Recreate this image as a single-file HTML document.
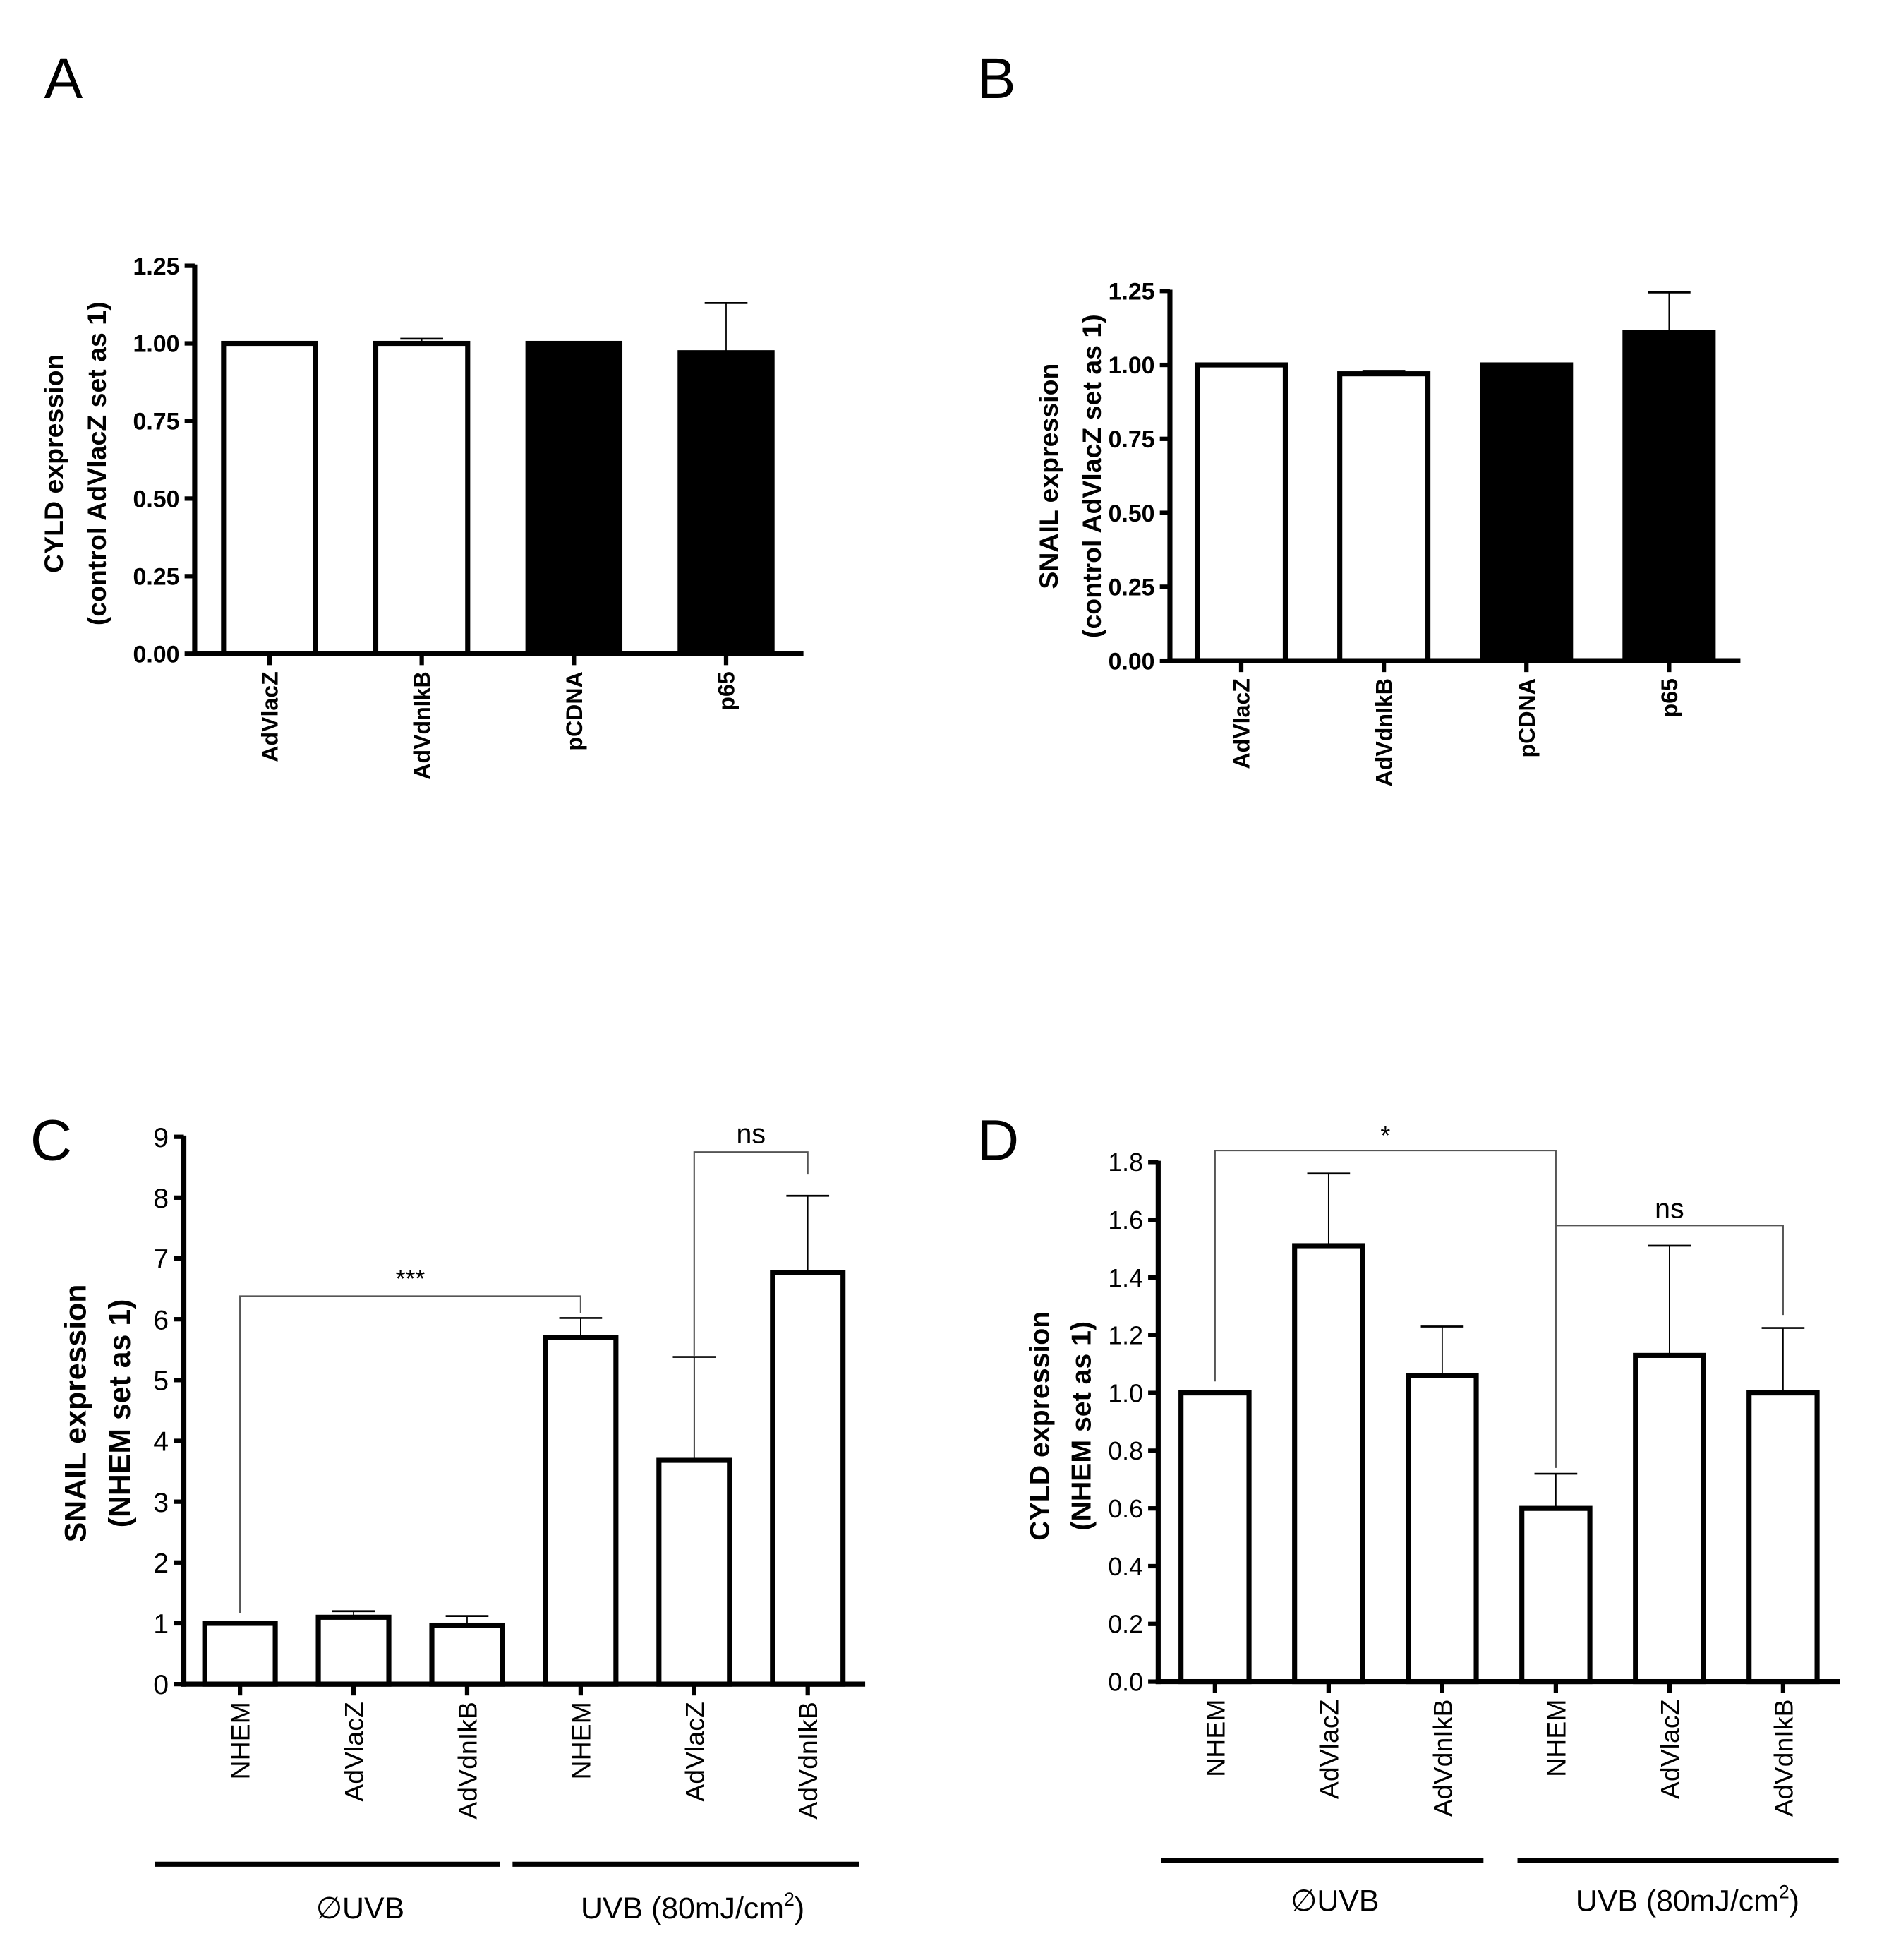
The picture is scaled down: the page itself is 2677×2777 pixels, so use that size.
<!DOCTYPE html>
<html><head><meta charset="utf-8"><style>
html,body{margin:0;padding:0;background:#fff}
svg{display:block}
text{font-family:"Liberation Sans",Arial,sans-serif;fill:#000}
</style></head><body>
<svg id="fig" width="2677" height="2777" viewBox="0 0 1500 1556" xmlns="http://www.w3.org/2000/svg">
<text x="35" y="78" font-size="46">A</text>
<text x="776" y="78" font-size="46">B</text>
<text x="24" y="921" font-size="46">C</text>
<text x="776" y="921" font-size="46">D</text>
</svg>
<script>
// Panel A data
const catsA = ["AdVlacZ","AdVdnIkB","pCDNA","p65"];
const valsA = [1.0, 1.0, 1.0, 0.97];
const errA = [1.0, 1.015, 1.0, 1.13];
const fillA = ["white","white","black","black"];
const ticksA = ["0.00","0.25","0.50","0.75","1.00","1.25"];
// Panel B data
const catsB = ["AdVlacZ","AdVdnIkB","pCDNA","p65"];
const valsB = [1.0, 0.97, 1.0, 1.11];
const errB = [1.0, 0.98, 1.0, 1.245];
const fillB = ["white","white","black","black"];
const ticksB = ["0.00","0.25","0.50","0.75","1.00","1.25"];
// Panel C data
const catsC = ["NHEM","AdVlacZ","AdVdnIkB","NHEM","AdVlacZ","AdVdnIkB"];
const valsC = [1.0, 1.1, 0.97, 5.7, 3.68, 6.77];
const errC = [1.0, 1.2, 1.12, 6.02, 5.38, 8.03];
const ticksC = ["0","1","2","3","4","5","6","7","8","9"];
// Panel D data
const catsD = ["NHEM","AdVlacZ","AdVdnIkB","NHEM","AdVlacZ","AdVdnIkB"];
const valsD = [1.0, 1.51, 1.06, 0.6, 1.13, 1.0];
const errD = [1.0, 1.76, 1.23, 0.72, 1.51, 1.225];
const ticksD = ["0.0","0.2","0.4","0.6","0.8","1.0","1.2","1.4","1.6","1.8"];

const NS="http://www.w3.org/2000/svg";
const svg=document.getElementById('fig');
function mk(tag,attrs,parent){const e=document.createElementNS(NS,tag);for(const k in attrs)e.setAttribute(k,attrs[k]);(parent||svg).appendChild(e);return e;}

function panel(cfg){
  const g=mk('g',{});
  
  
  const ymax=parseFloat(cfg.ticks[cfg.ticks.length-1]);
  const y=v=>cfg.y0-(v/ymax)*(cfg.y0-cfg.ytop);
  const n=cfg.cats.length;
  const step=(cfg.xend-cfg.x0)/n;
  const cx=i=>cfg.x0+step*(i+0.5)+cfg.shift;
  cfg.ticks.forEach(t=>{
    const yy=y(parseFloat(t));
    const tk=mk('line',{x1:cfg.x0-8,x2:cfg.x0,y1:yy,y2:yy,stroke:'#000','stroke-width':3.5},g);
    
    
    const tl=mk('text',{x:cfg.x0-12,y:yy+cfg.tfs*0.36,'text-anchor':'end','font-size':cfg.tfs,'font-weight':cfg.bold?'bold':'normal'},g);
    tl.textContent=t;
    
    
  });
  cfg.vals.forEach((v,i)=>{
    const c=cx(i), w=cfg.bw;
    const el=mk('line',{x1:c,x2:c,y1:y(v),y2:y(cfg.err[i]),stroke:'#000','stroke-width':1},g);
    
    
    if(cfg.err[i]>v){
      const cap=mk('line',{x1:c-17,x2:c+17,y1:y(cfg.err[i]),y2:y(cfg.err[i]),stroke:'#000','stroke-width':1.5},g);
      
      
    }
    const f=cfg.fill?cfg.fill[i]:'white';
    const r=mk('rect',{x:c-w/2+2,y:y(v),width:w-4,height:cfg.y0-y(v),fill:f,stroke:'#000','stroke-width':4},g);
    
    
    const xt=mk('line',{x1:c,x2:c,y1:cfg.y0,y2:cfg.y0+9,stroke:'#000','stroke-width':3.5},g);
    
    
    const lb=mk('text',{x:0,y:0,'text-anchor':'end','font-size':cfg.cfs,'font-weight':cfg.bold?'bold':'normal',transform:`translate(${c+cfg.cfs*0.36},${cfg.y0+14}) rotate(-90)`},g);
    lb.textContent=cfg.cats[i];
    
    
  });
  const ya=mk('line',{x1:cfg.x0,x2:cfg.x0,y1:cfg.ytop-1,y2:cfg.y0+2,stroke:'#000','stroke-width':4},g);
  
  
  const xa=mk('line',{x1:cfg.x0-2,x2:cfg.xend,y1:cfg.y0,y2:cfg.y0,stroke:'#000','stroke-width':4},g);
  
  
  cfg.title.forEach((t,k)=>{
    const tt=mk('text',{x:0,y:0,'text-anchor':'middle','font-size':cfg.yfs,'font-weight':'bold',transform:`translate(${cfg.tx[k]},${cfg.ty}) rotate(-90)`},g);
    tt.textContent=t;
    
    
  });
  return {y,cx,g};
}

panel({name:'panel-a',cats:catsA,vals:valsA,err:errA,fill:fillA,ticks:ticksA,x0:154.6,xend:638,ytop:211,y0:519,shift:-1,bw:77,tfs:19,cfs:18,bold:true,yfs:21,title:["CYLD expression","(control AdVlacZ set as 1)"],tx:[50,84],ty:368});
panel({name:'panel-b',cats:catsB,vals:valsB,err:errB,fill:fillB,ticks:ticksB,x0:929,xend:1382,ytop:231,y0:524.5,shift:0,bw:74,tfs:19,cfs:18,bold:true,yfs:21,title:["SNAIL expression","(control AdVlacZ set as 1)"],tx:[840,874],ty:378});
const pc=panel({name:'panel-c',cats:catsC,vals:valsC,err:errC,ticks:ticksC,x0:146,xend:687,ytop:902.5,y0:1337,shift:-0.5,bw:60,tfs:22,cfs:21,bold:false,yfs:24,title:["SNAIL expression","(NHEM set as 1)"],tx:[68,103],ty:1122});
const pd=panel({name:'panel-d',cats:catsD,vals:valsD,err:errD,ticks:ticksD,x0:919.7,xend:1461,ytop:922.5,y0:1335,shift:0,bw:58,tfs:20,cfs:21,bold:false,yfs:22,title:["CYLD expression","(NHEM set as 1)"],tx:[833,866],ty:1132});

function path(d,name){const p=mk('path',{d:d,fill:'none',stroke:'#555','stroke-width':1.2});}
function txt(x,y,s,fs,name,anchor){const t=mk('text',{x:x,y:y,'font-size':fs,'text-anchor':anchor||'middle'});t.textContent=s;return t;}
// C brackets (data units)
path(`M${pc.cx(0)},${pc.y(1.17)} V${pc.y(6.38)} H${pc.cx(3)} V${pc.y(6.1)}`,'significance-bracket-c1');
txt((pc.cx(0)+pc.cx(3))/2,pc.y(6.38)-7,'***',20,'significance-stars');
path(`M${pc.cx(4)},${pc.y(5.4)} V${pc.y(8.75)} H${pc.cx(5)} V${pc.y(8.38)}`,'significance-bracket-c2');
txt((pc.cx(4)+pc.cx(5))/2,pc.y(8.75)-7,'ns',22,'significance-ns');
// D brackets
path(`M${pd.cx(0)},${pd.y(1.04)} V${pd.y(1.84)} H${pd.cx(3)} V${pd.y(0.74)}`,'significance-bracket-d1');
txt((pd.cx(0)+pd.cx(3))/2,pd.y(1.84)-5,'*',20,'significance-star');
path(`M${pd.cx(3)},${pd.y(1.58)} H${pd.cx(5)} V${pd.y(1.27)}`,'significance-bracket-d2');
txt((pd.cx(3)+pd.cx(5))/2,pd.y(1.58)-6,'ns',22,'significance-ns');
// group lines
[[123,397,1480],[407,682,1480],[922,1178,1477],[1205,1460,1477]].forEach(a=>{
  const l=mk('line',{x1:a[0],x2:a[1],y1:a[2],y2:a[2],stroke:'#000','stroke-width':4});
  
  
});
txt(286,1523,'\u2205UVB',24,'group-label-no-uvb');
let t1=txt(550,1523,'',24,'group-label-uvb');
t1.innerHTML='UVB (80mJ/cm<tspan dy="-10" font-size="15">2</tspan><tspan dy="10">)</tspan>';
txt(1060,1517,'\u2205UVB',24,'group-label-no-uvb');
let t2=txt(1340,1517,'',24,'group-label-uvb');
t2.innerHTML='UVB (80mJ/cm<tspan dy="-10" font-size="15">2</tspan><tspan dy="10">)</tspan>';
</script>
</body></html>
